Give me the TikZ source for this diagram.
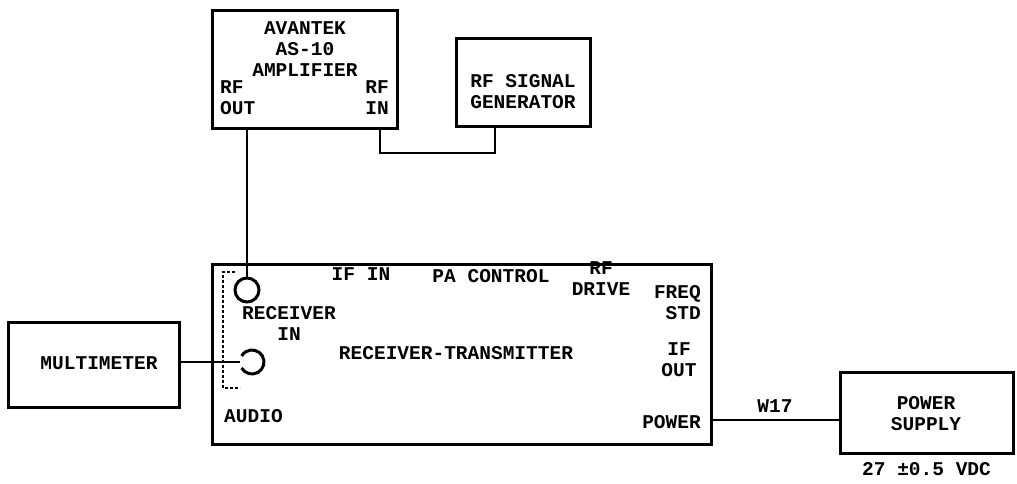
\documentclass[tikz,border=0pt]{standalone}
\usepackage{fontspec}
\setmonofont{Liberation Mono}
\usepackage{tikz}
\usetikzlibrary{positioning, calc}

\begin{document}
\begin{tikzpicture}[
    x=1pt, y=-1pt,
    unit/.style={rectangle, draw, line width=3pt, inner sep=0pt},
    lbl/.style={font=\ttfamily\bfseries\fontsize{19.5}{21}\selectfont, inner sep=0pt, align=center},
    jack/.style={circle, draw, line width=3pt, minimum size=24pt, inner sep=0pt},
    wire/.style={line width=2.8pt}
]
\useasboundingbox (0,0) rectangle (1017,484);
\node[unit, minimum width=185pt, minimum height=118pt] (amp) at (304.5,70) {};
\node[unit, minimum width=134pt, minimum height=88pt] (gen) at (523,83) {};
\node[unit, minimum width=499pt, minimum height=180pt] (rt) at (461.5,354) {};
\node[unit, minimum width=171pt, minimum height=85pt] (mm) at (93.5,364.5) {};
\node[unit, minimum width=173pt, minimum height=81pt] (ps) at (926.5,412.5) {};

\node[lbl] (amptitle) at (305,49) {AVANTEK\\AS-10\\AMPLIFIER};
\node[lbl, align=left, anchor=west] (rfout) at (220,98) {RF\\OUT};
\node[lbl, align=right, anchor=east] (rfin) at (389,98) {RF\\IN};
\node[lbl] (gentxt) at (523,92) {RF SIGNAL\\GENERATOR};
\node[lbl] (mmtxt) at (99,363) {MULTIMETER};
\node[lbl] (pstxt) at (926,414) {POWER\\SUPPLY};
\node[lbl, below=8pt of ps] (vdc) {27 \textpm0.5 VDC};

\node[lbl] (ifin) at (361,274) {IF IN};
\node[lbl] (pactl) at (491,276) {PA CONTROL};
\node[lbl] (rfdrv) at (601,279) {RF\\DRIVE};
\node[lbl, align=right, anchor=east] (freq) at (701,303) {FREQ\\STD};
\node[lbl] (ifout) at (679,360) {IF\\OUT};
\node[lbl, anchor=east] (pwr) at (701,422) {POWER};
\node[lbl] (rxtxt) at (289,323) {RECEIVER\\IN};
\node[lbl] (rttxt) at (456,353) {RECEIVER-TRANSMITTER};
\node[lbl, anchor=west] (audtxt) at (224,416) {AUDIO};

\node[jack] (rxin) at (247,290) {};
\coordinate (audio) at (252,362);
\draw[line width=3pt] ([shift={(150:12)}]audio) arc (150:-150:12);
\draw[line width=1.8pt, densely dashed] (235,272) -- (223,272) -- (223,388) -- (240,388);

\coordinate (ampin) at (380,129);
\coordinate (genin) at (495,127);
\coordinate (w17) at (775,420);
\draw[wire] (amp.south -| rxin) -- (rxin.north);
\draw[wire] (ampin) -- (380,153) -| (genin);
\draw[wire] (mm.east |- audio) -- ([xshift=-12]audio);
\draw[wire] (w17 -| rt.east) -- (w17 -| ps.west);
\node[lbl, above=7pt of w17] (w17txt) {W17};
\end{tikzpicture}
\end{document}
